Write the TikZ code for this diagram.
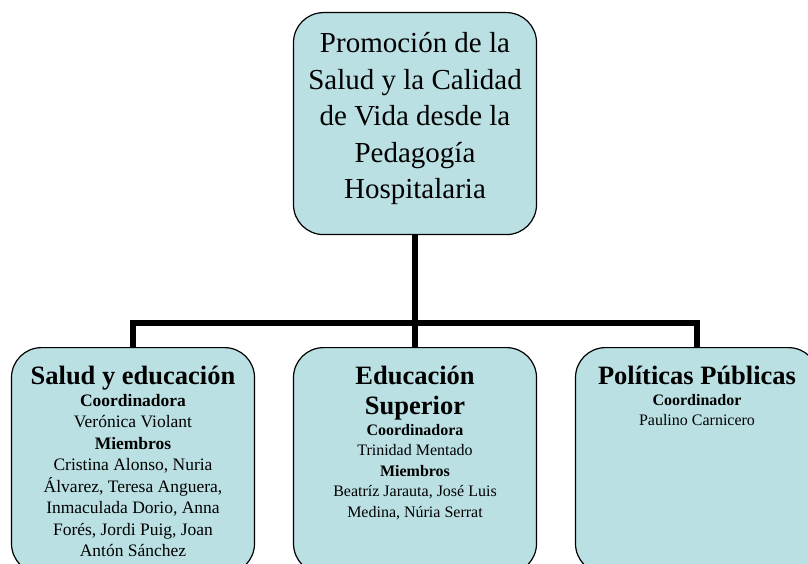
\documentclass[tikz,border=0pt]{standalone}
\usepackage{fontspec}
\setmainfont{Liberation Serif}
\usepackage{tikz}
\usetikzlibrary{positioning}
\definecolor{cajafondo}{RGB}{186,224,227}
\tikzset{
  caja/.style={rectangle, draw, line width=1.2pt, fill=cajafondo, rounded corners=30pt,
    minimum width=243pt, text width=231pt, align=flush center, inner xsep=6pt, inner ysep=0pt, anchor=north},
  rama/.style={line width=5.5pt}
}
\newcommand{\cajaraiz}[3] {\node at (#1) (#2) [caja, text height=40pt, text depth=182pt] {#3\par};}
\newcommand{\cajagrupo}[3] {\node at (#1) (#2) [caja, text height=37pt, text depth=189pt] {#3\par};}
\newcommand{\titulo}[1] {{\fontsize{26.5}{30}\selectfont\bfseries #1\par}}

\begin{document}
\begin{tikzpicture}[x=1pt, y=1pt]
\useasboundingbox (0,0) rectangle (808,563);
\clip (0,0) rectangle (808,563);
\cajaraiz{415,551}{raiz}{\fontsize{29}{36.5}\selectfont Promoción de la\\ Salud y la Calidad\\ de Vida desde la\\ Pedagogía\\ Hospitalaria}
\cajagrupo{133,216}{salud}{\titulo{Salud y educación}
  \fontsize{17.5}{21.5}\selectfont \textbf{Coordinadora}\\ Verónica Violant\\ \textbf{Miembros}\\
  Cristina Alonso, Nuria\\ Álvarez, Teresa Anguera,\\ Inmaculada Dorio, Anna\\ Forés, Jordi Puig, Joan\\ Antón Sánchez}
\cajagrupo{415,216}{superior}{\titulo{Educación\\ Superior}
  \fontsize{16}{20.5}\selectfont \textbf{Coordinadora}\\ Trinidad Mentado\\ \textbf{Miembros}\\
  Beatríz Jarauta, José Luis\\ Medina, Núria Serrat}
\cajagrupo{697,216}{politicas}{\titulo{Políticas Públicas}
  \fontsize{16}{20.5}\selectfont \textbf{Coordinador}\\ Paulino Carnicero}
% lineas del organigrama
\coordinate (cruce) at (415,240);
\draw [rama] (raiz.south) -- (cruce);
\draw [rama] (salud.north) |- (cruce) -| (politicas.north);
\draw [rama] (cruce) -- (superior.north);
\end{tikzpicture}
\end{document}
